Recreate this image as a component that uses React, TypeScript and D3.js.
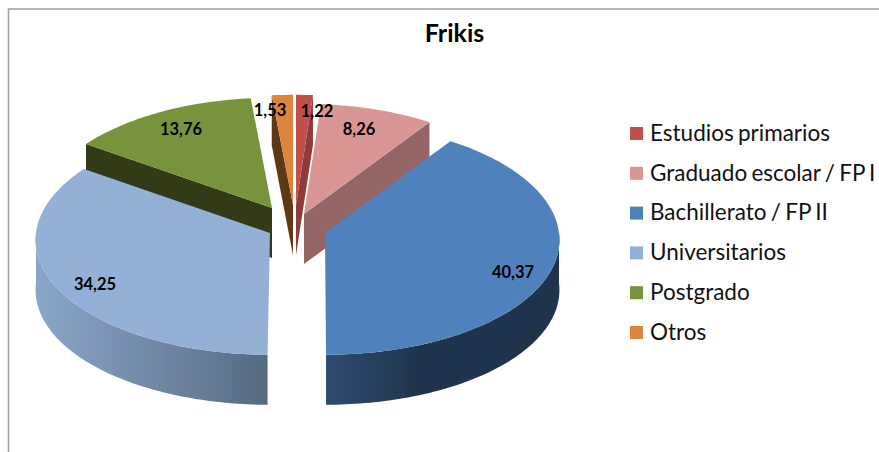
import React from 'react';
import * as d3 from 'd3';

const categories = ['Estudios primarios', 'Graduado escolar / FP I', 'Bachillerato / FP II', 'Universitarios', 'Postgrado', 'Otros'];
const values = [1.22, 8.26, 40.37, 34.25, 13.76, 1.53];
const valueLabels = ['1,22', '8,26', '40,37', '34,25', '13,76', '1,53'];
const topColors = ['#c0504d', '#d99694', '#4f81bd', '#93b0d6', '#77933c', '#dd843c'];
const sideColors = ['#8f3b39', '#936565', '#26405f', '#6f86a3', '#323a17', '#5e3815'];
const wallStart = ['#8f3b39', '#936565', '#2f4b70', '#8aa6c9', '#323a17', '#5e3815'];
const wallMid = ['#8f3b39', '#936565', '#1f344c', '#7289a8', '#323a17', '#5e3815'];
const wallEnd = ['#8f3b39', '#936565', '#1f344c', '#566a80', '#323a17', '#5e3815'];
const apexX = [296, 304, 325, 270, 272, 293];
const apexY = [205, 214, 233, 233, 208, 205];
const endTrim = [0, 0, 0.014, 0, 0, 0];
const labelX = [317, 359, 513, 95, 181, 270];
const labelY = [113, 131, 274, 286, 131, 112];

const RX = 234, RY = 116, DEPTH = 50;

const pieGen = d3.pie<number>().sort(null).startAngle(0).endAngle(2 * Math.PI);
const arcs = pieGen(values).map((a, i) => ({ ...a, endAngle: a.endAngle - endTrim[i] }));

function rim(i: number, a: number, dy = 0): [number, number] {
  const u = Math.sin(a), v = -Math.cos(a);
  return [apexX[i] + RX * u * (1 + 0.06 * v), apexY[i] + RY * v * (1 + 0.05 * v) + dy];
}
function rimPoints(i: number, a0: number, a1: number, dy = 0): [number, number][] {
  const n = Math.max(2, Math.ceil((a1 - a0) / 0.02));
  return d3.range(n + 1).map(k => rim(i, a0 + (a1 - a0) * k / n, dy));
}
const line = d3.line<[number, number]>();

function topPath(i: number) {
  const { startAngle, endAngle } = arcs[i];
  return line([[apexX[i], apexY[i]], ...rimPoints(i, startAngle, endAngle)])! + 'Z';
}
function radialWall(i: number, a: number) {
  const p = rim(i, a);
  const ax = apexX[i], ay = apexY[i];
  return line([[ax, ay], p, [p[0], p[1] + DEPTH], [ax, ay + DEPTH]])! + 'Z';
}
function outerWall(i: number) {
  const { startAngle, endAngle } = arcs[i];
  const a0 = Math.max(startAngle, Math.PI / 2), a1 = Math.min(endAngle, 3 * Math.PI / 2);
  if (a1 <= a0) return null;
  const top = rimPoints(i, a0, a1);
  const bottom = rimPoints(i, a0, a1, DEPTH).reverse();
  return line([...top, ...bottom])! + 'Z';
}

const legendY = d3.scalePoint<string>().domain(categories).range([134, 333]);

export default function App() {
  return (
    <svg width={879} height={452} style={{ position: 'absolute', left: 0, top: 0, background: '#fff' }}>
      <defs>
        <linearGradient id="wall2" gradientUnits="userSpaceOnUse" x1={326} x2={560} y1={0} y2={0}>
          <stop offset="0" stopColor={wallStart[2]} />
          <stop offset="0.4" stopColor={wallMid[2]} />
          <stop offset="1" stopColor={wallEnd[2]} />
        </linearGradient>
        <linearGradient id="wall3" gradientUnits="userSpaceOnUse" x1={36} x2={267} y1={0} y2={0}>
          <stop offset="0" stopColor={wallStart[3]} />
          <stop offset="0.5" stopColor={wallMid[3]} />
          <stop offset="1" stopColor={wallEnd[3]} />
        </linearGradient>
      </defs>
      <path d="M8.5 452V9H879" fill="none" stroke="#a0a0a0" strokeWidth={1.5} />

      <path d={radialWall(0, arcs[0].endAngle)} fill={sideColors[0]} />
      <path d={radialWall(1, arcs[1].endAngle)} fill={sideColors[1]} />
      <path d={radialWall(4, arcs[4].startAngle)} fill={sideColors[4]} />
      <path d={radialWall(5, arcs[5].startAngle)} fill={sideColors[5]} />
      <path d={topPath(4)} fill={topColors[4]} />
      <path d={topPath(5)} fill={topColors[5]} />
      <path d={topPath(0)} fill={topColors[0]} />
      <path d={topPath(1)} fill={topColors[1]} />
      <path d={outerWall(2)!} fill="url(#wall2)" />
      <path d={topPath(2)} fill={topColors[2]} />
      <path d={outerWall(3)!} fill="url(#wall3)" />
      <path d={topPath(3)} fill={topColors[3]} />

      <g fontFamily="Lato" fontWeight={700} fontSize={16.5} fill="#000" textAnchor="middle" dominantBaseline="middle">
        {valueLabels.map((t, i) => <text key={i} x={labelX[i]} y={labelY[i]}>{t}</text>)}
      </g>
      <text x={454.5} y={36} textAnchor="middle" dominantBaseline="middle" fontFamily="Lato" fontWeight={700} fontSize={25} fill="#000">Frikis</text>

      {categories.map((c, i) => (
        <g key={c}>
          <rect x={630} y={legendY(c)! - 7} width={13} height={13} fill={topColors[i]} />
          <text x={650} y={legendY(c)! + 1} dominantBaseline="middle" fontFamily="Lato" fontSize={22.5} wordSpacing={-1.5} fill="#111">{c}</text>
        </g>
      ))}
    </svg>
  );
}
